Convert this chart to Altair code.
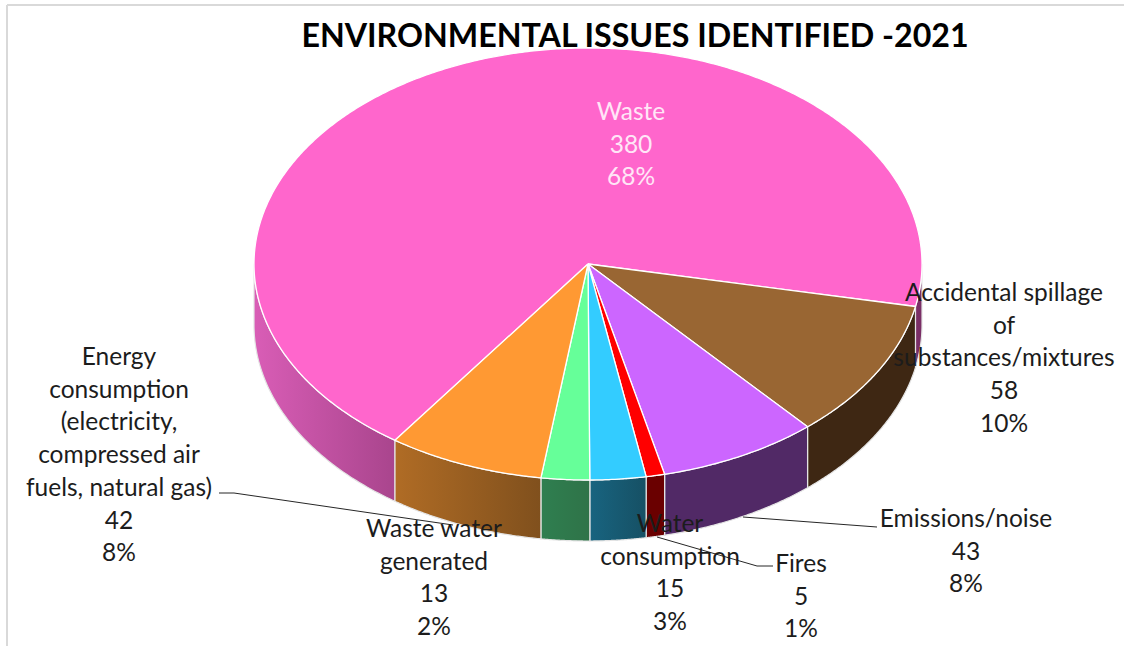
import altair as alt
import numpy as np
import pandas as pd

# Issue counts, in clockwise order around the pie
categories = ["Waste", "Accidental spillage", "Emissions/noise", "Fires",
              "Water consumption", "Waste water generated", "Energy consumption"]
values = [380, 58, 43, 5, 15, 13, 42]

top_colors = ["#FF66CC", "#996633", "#CC66FF", "#FF0000", "#33CCFF", "#66FF99", "#FF9933"]
side_left = ["#D95DB6", "#3E2713", "#512966", "#6A0000", "#186480", "#2F7F50", "#B06C25"]
side_right = ["#A9458D", "#3E2713", "#512966", "#6A0000", "#165064", "#2F7348", "#80501D"]

label_lines = [
    ["Waste"],
    ["Accidental spillage", "of", "substances/mixtures"],
    ["Emissions/noise"],
    ["Fires"],
    ["Water", "consumption"],
    ["Waste water", "generated"],
    ["Energy", "consumption", "(electricity,", "compressed air", "fuels, natural gas)"],
]

# Page layout, in pixels
W, H = 1124, 646
CX, CY = 588, 264
RX, RY = 334, 216
DEPTH = 61
START_ANGLE = 215.3
FONT = "Lato"
FONT_SIZE = 24.5
LINE_STEP = 32.7

label_anchor = [(631, 113), (1004, 294), (966, 520), (801, 565),
                (670, 525), (434, 530), (119, 358)]

leaders = {
    "energy": [(219, 493), (234, 493), (453, 525)],
    "emissions": [(877, 527), (743, 517)],
    "fires": [(773, 566), (757, 566), (657, 537)],
}

TILT = RY / RX
x_scale = alt.Scale(domain=[-CX / RX, (W - CX) / RX], range=[0, W])
y_scale = alt.Scale(domain=[-(H - CY) / RX, CY / RX], range=[H, 0])
X = alt.X("x:Q", scale=x_scale, axis=None)
Y = alt.Y("y:Q", scale=y_scale, axis=None)


def rim(deg):
    """Point on the tilted top rim for a clockwise angle measured from twelve o'clock."""
    rad = np.radians(deg)
    return np.sin(rad), np.cos(rad) * TILT


def polygon(xs, ys, fill, stroke, width):
    """A closed outline drawn as a filled line through the pie's scales."""
    outline = pd.DataFrame({"x": xs, "y": ys, "step": np.arange(len(xs))})
    return alt.Chart(outline).mark_line(
        fill=fill, stroke=stroke, strokeWidth=width, strokeJoin="round", interpolate="linear"
    ).encode(x=X, y=Y, order="step:Q")


total = sum(values)
spans = [v / total * 360 for v in values]
starts = [START_ANGLE + sum(spans[:i]) for i in range(len(values))]

side_layers = []
top_layers = []

for i, (start, span) in enumerate(zip(starts, spans)):
    # The wall is only visible along the front half of the rim (90° to 270°)
    end = start + span
    for turn in (0, 360):
        lo = max(start, 90 + turn)
        hi = min(end, 270 + turn)
        if hi <= lo:
            continue
        xs, ys = rim(np.linspace(lo, hi, 90))
        # The part of the largest slice that curves round the right edge is in shadow
        if i == 0 and turn == 360:
            fill = "#7A2E66"
        else:
            fill = alt.Gradient(
                gradient="linear", x1=0, y1=0, x2=1, y2=0,
                stops=[alt.GradientStop(color=side_left[i], offset=0),
                       alt.GradientStop(color=side_right[i], offset=1)],
            )
        side_layers.append(polygon(
            np.r_[xs, xs[::-1], xs[0]],
            np.r_[ys, ys[::-1] - DEPTH / RX, ys[0]],
            fill, "#E4E4E4", 1.2,
        ))

    xs, ys = rim(np.linspace(start, end, max(int(span * 2), 8)))
    top_layers.append(polygon(np.r_[0.0, xs, 0.0], np.r_[0.0, ys, 0.0],
                              top_colors[i], "white", 1.3))

# Top and left edges of the surrounding frame
anchor_row = pd.DataFrame({"k": [0]})
frame = [
    alt.Chart(anchor_row).mark_rule(color="#D9D9D9", strokeWidth=2)
    .encode(x=alt.value(7), y=alt.value(5), y2=alt.value(H)),
    alt.Chart(anchor_row).mark_rule(color="#D9D9D9", strokeWidth=2)
    .encode(x=alt.value(7), x2=alt.value(W), y=alt.value(5)),
]

leader_rows = []
for name, pts in leaders.items():
    for step, (px, py) in enumerate(pts):
        leader_rows.append({"name": name, "step": step,
                            "x": (px - CX) / RX, "y": (CY - py) / RX})
leader_layer = alt.Chart(pd.DataFrame(leader_rows)).mark_line(
    color="#262626", strokeWidth=1, interpolate="linear"
).encode(x=X, y=Y, detail="name:N", order="step:Q")

text_rows = []
for i, lines in enumerate(label_lines):
    share = f"{values[i] / total * 100:.0f}%"
    ax, ay = label_anchor[i]
    for j, line in enumerate(lines + [str(values[i]), share]):
        text_rows.append({"line": line,
                          "x": (ax - CX) / RX,
                          "y": (CY - ay - j * LINE_STEP) / RX,
                          "tone": "#FFE6F7" if i == 0 else "#1C1C1C"})
texts = pd.DataFrame(text_rows)

label_layer = alt.Chart(texts).mark_text(
    font=FONT, fontSize=FONT_SIZE, align="center", baseline="middle"
).encode(x=X, y=Y, text="line:N", color=alt.Color("tone:N", scale=None))

chart = alt.layer(*frame, *side_layers, *top_layers, leader_layer, label_layer).properties(
    width=W,
    height=H,
    padding=0,
    background="white",
    autosize=alt.AutoSizeParams(type="none"),
    title=alt.TitleParams(
        "ENVIRONMENTAL ISSUES IDENTIFIED -2021",
        font=FONT, fontSize=32.2, fontWeight="bold", color="black",
        anchor="middle", dx=73, dy=33, offset=-46, baseline="alphabetic",
    ),
).configure_view(stroke=None)

chart.save("out.html", embed_options={"renderer": "svg", "actions": False})
